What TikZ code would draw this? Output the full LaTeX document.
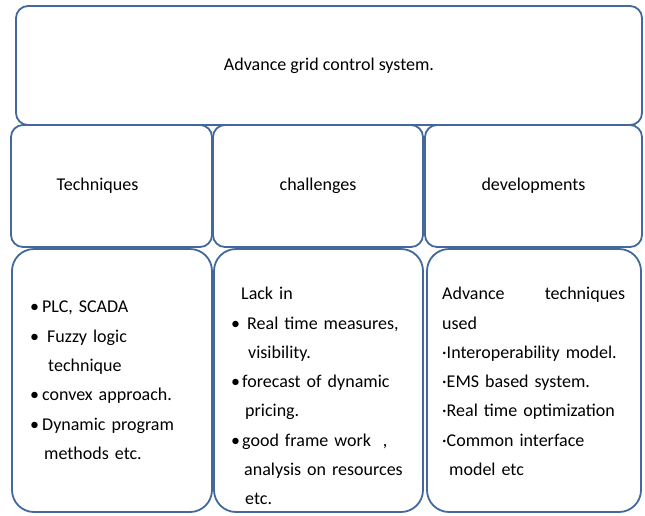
\documentclass[tikz,border=0pt]{standalone}
\usepackage{fontspec}
\setmainfont{Carlito}
\definecolor{boxblue}{RGB}{66,104,156}
\tikzset{
  gridbox/.style={draw=boxblue, line width=1.8pt, rounded corners=12pt, inner sep=0pt, font=\fontsize{18}{22}\selectfont},
  listbox/.style={gridbox, rounded corners=22pt},
  listtext/.style={anchor=north west, inner sep=0pt, text width=#1, align=left, font=\fontsize{18}{29.3}\selectfont},
}

\begin{document}
\begin{tikzpicture}[x=1pt, y=-1pt]
\useasboundingbox (0,0) rectangle (645,515);
% Top row
\node[gridbox, minimum width=626pt, minimum height=119pt] (top) at (329, 65.5) {Advance grid control system.};

% Second row
\node[gridbox, minimum width=201pt, minimum height=122pt] (tech) at (111.5, 186) {Techniques\hspace*{28pt}};
\node[gridbox, minimum width=210pt, minimum height=122pt] (chal) at (318, 186) {challenges};
\node[gridbox, minimum width=217pt, minimum height=122pt] (devl) at (533.5, 186) {developments};

% Third row
\node[listbox, minimum width=200pt, minimum height=263pt] (techL) at (112, 380.5) {};
\node[listbox, minimum width=209pt, minimum height=263pt] (chalL) at (318.5, 380.5) {};
\node[listbox, minimum width=214pt, minimum height=263pt] (devlL) at (534, 380.5) {};

% List texts
\node[listtext=172pt] (techT) at (30, 301) {%
  \makebox[12pt][l]{\textbullet}PLC, SCADA\\
  \makebox[17pt][l]{\textbullet}Fuzzy logic\\
  \hspace*{18pt}technique\\
  \makebox[12pt][l]{\textbullet}convex approach.\\
  \makebox[12pt][l]{\textbullet}Dynamic program\\
  \hspace*{14pt}methods etc.};
\node[listtext=182pt] (chalT) at (231, 287) {%
  \hspace*{10pt}Lack in\\
  \makebox[16pt][l]{\textbullet}Real time measures,\\
  \hspace*{17pt}visibility.\\
  \makebox[11pt][l]{\textbullet}forecast of dynamic\\
  \hspace*{14pt}pricing.\\
  \makebox[11pt][l]{\textbullet}good frame work\ \ ,\\
  \hspace*{13pt}analysis on resources\\
  \hspace*{14pt}etc.};
\node[listtext=183pt] (devlT) at (442, 287) {%
  Advance\hfill techniques\\
  used\\
  ·Interoperability model.\\
  ·EMS based system.\\
  ·Real time optimization\\
  ·Common interface\\
  \hspace*{7pt}model etc};
\end{tikzpicture}
\end{document}
